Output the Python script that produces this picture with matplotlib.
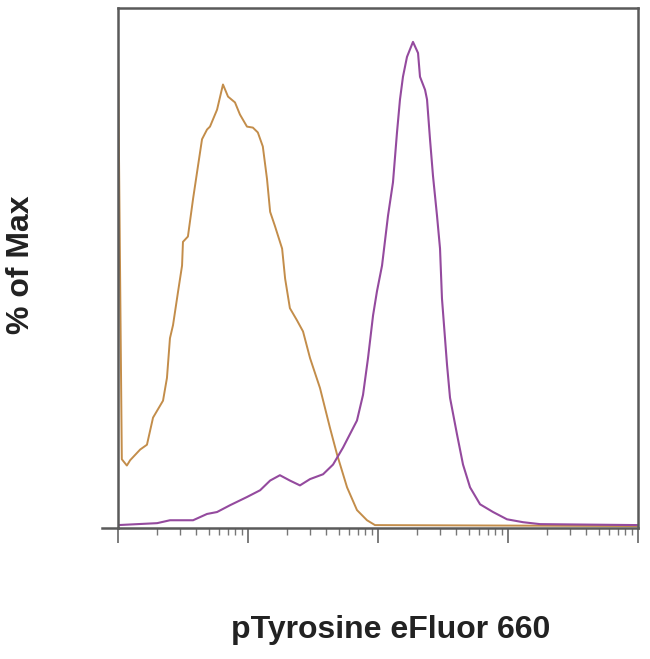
import matplotlib
matplotlib.use("Agg")
import matplotlib.pyplot as plt
import numpy as np
from matplotlib.ticker import LogLocator, NullFormatter

# fluorescence intensity (log axis) and % of max
orange_x = [10, 10.7, 11.7, 12.4, 14.8, 16.7, 18.6, 21.0, 22.2, 23.8, 25.1, 26.5,
            29.0, 31.1, 31.6, 34.5, 37.8, 41.2, 44.3, 48.4, 51.0, 57.8, 64.2, 70.2,
            79.4, 86.7, 98.2, 109, 119, 130, 140, 148, 161, 183, 193, 210, 238,
            265, 300, 358, 427, 484, 578, 689, 823, 948, 100000]
orange_y = [98.4, 13.8, 12.5, 13.6, 15.8, 16.8, 22.4, 24.8, 25.9, 30.6, 38.8, 41.5,
            48.5, 53.8, 58.7, 59.8, 67.6, 74.3, 79.9, 81.9, 82.5, 86.0, 91.2, 88.7,
            87.5, 85.0, 82.5, 82.3, 81.3, 78.4, 71.7, 64.9, 62.0, 57.3, 51.1, 45.0, 42.5,
            40.2, 34.7, 28.5, 20.3, 14.8, 8.0, 3.3, 1.2, 0.2, 0]

purple_x = [10, 20.0, 25.1, 37.8, 48.4, 57.8, 72.7, 98.2, 124, 148, 176, 210, 251,
            300, 378, 451, 538, 689, 767, 838, 916, 982, 1074, 1194, 1304, 1400,
            1476, 1556, 1671, 1858, 2032, 2104, 2301, 2383, 2512, 2649, 2844, 3000,
            3105, 3396, 3581, 4055, 4508, 5105, 6095, 7674, 9817, 13040, 17620, 100000]
purple_y = [0.2, 0.6, 1.2, 1.2, 2.5, 2.9, 4.3, 6.0, 7.4, 9.4, 10.5, 9.4, 8.4,
            9.7, 10.7, 12.7, 16.2, 21.8, 27.1, 34.7, 43.5, 48.5, 53.8, 64.1, 71.0, 81.3,
            88.1, 92.8, 96.9, 100, 97.7, 92.8, 90.1, 88.1, 79.9, 72.3, 64.1, 57.3,
            47.0, 33.3, 26.5, 18.9, 12.7, 8.0, 4.5, 2.9, 1.4, 0.8, 0.4, 0.2]

x_title = "pTyrosine eFluor 660"
y_title = "% of Max"

plt.rcParams['font.family'] = ['Liberation Sans', 'DejaVu Sans']

fig = plt.figure(figsize=(6.5, 6.59), dpi=100)
ax = fig.add_axes([118/650, 1-528/659, 520/650, 520/659])

ax.plot(orange_x, orange_y, color="#c38d4a", lw=1.4)
ax.plot(purple_x, purple_y, color="#944a9e", lw=1.5)

ax.set_xscale("log")
ax.set_xlim(10, 100000)
ax.set_ylim(-0.4, 107)

for s in ax.spines.values():
    s.set_color("#5a5a5a")
    s.set_linewidth(1.8)

# bottom line runs a little past the left edge, as in the original
ax.plot([-0.03, 0], [0, 0], transform=ax.transAxes, color="#5a5a5a",
        lw=1.8, clip_on=False)

ax.xaxis.set_major_locator(LogLocator(base=10, numticks=10))
ax.xaxis.set_minor_locator(LogLocator(base=10, subs=np.arange(2, 10), numticks=20))
ax.xaxis.set_major_formatter(NullFormatter())
ax.xaxis.set_minor_formatter(NullFormatter())
ax.tick_params(axis="x", which="major", direction="out", length=11, width=1.2, color="#666666")
ax.tick_params(axis="x", which="minor", direction="out", length=5, width=1.0, color="#777777")
ax.set_yticks([])

fig.text(391/650, 1-630/659, x_title, ha="center", va="center",
         fontsize=23, fontweight="bold", color="#222222")
fig.text(21/650, 1-265/659, y_title, ha="center", va="center", rotation=90,
         fontsize=23, fontweight="bold", color="#222222")

fig.savefig("out.png", dpi=100)
